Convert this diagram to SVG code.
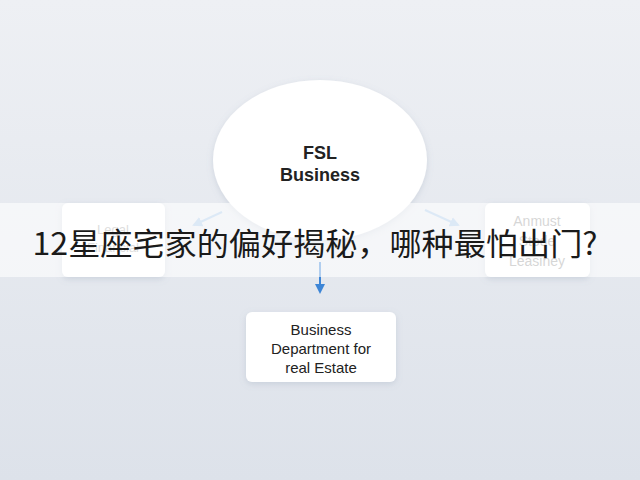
<svg xmlns="http://www.w3.org/2000/svg" width="640" height="480" viewBox="0 0 640 480">
<defs>
<linearGradient id="bg" x1="0" y1="0" x2="0" y2="1"><stop offset="0" stop-color="#eef0f4"/><stop offset="1" stop-color="#dde2ea"/></linearGradient>
<marker id="ah" viewBox="0 0 10 10" refX="8" refY="5" markerWidth="5" markerHeight="5" orient="auto"><path d="M0,0L10,5L0,10z" fill="context-stroke"/></marker>
<filter id="sh" x="-20%" y="-20%" width="140%" height="140%"><feDropShadow dx="0" dy="2" stdDeviation="3" flood-color="#8090a8" flood-opacity="0.25"/></filter>
</defs>
<style>
.box{fill:#fff;filter:url(#sh)}
.t{font-family:"Liberation Sans",Arial,sans-serif;fill:#222;text-anchor:middle}
.c{stroke-width:2;fill:none;marker-end:url(#ah)}
</style>
<rect width="640" height="480" fill="url(#bg)"/>
<g id="connectors">
<path class="c" d="M222,212 L194,225" stroke="#a9c8e8"/>
<path class="c" d="M425,210 L458,225" stroke="#a9c8e8"/>
<path class="c" d="M320,262 L320,292" stroke="#3d85d6"/>
</g>
<g id="fsl"><ellipse class="box" cx="320" cy="160" rx="107" ry="80"/>
<text class="t" x="320" y="159" font-size="18" font-weight="bold">FSL</text>
<text class="t" x="320" y="181" font-size="18" font-weight="bold">Business</text></g>
<g id="left"><rect class="box" x="62" y="203" width="103" height="74" rx="6"/>
<text class="t" x="113" y="234" font-size="13" style="fill:#aaa">Legal</text>
<text class="t" x="113" y="252" font-size="13" style="fill:#aaa">Financial</text></g>
<g id="right"><rect class="box" x="485" y="203" width="105" height="74" rx="6"/>
<text class="t" x="537" y="226" font-size="14" style="fill:#999">Anmust</text>
<text class="t" x="537" y="246" font-size="14" style="fill:#999">Stode</text>
<text class="t" x="537" y="266" font-size="14" style="fill:#999">Leasiney</text></g>
<g id="dept"><rect class="box" x="246" y="312" width="150" height="70" rx="6"/>
<text class="t" x="321" y="335" font-size="15">Business</text>
<text class="t" x="321" y="354" font-size="15">Department for</text>
<text class="t" x="321" y="373" font-size="15">real Estate</text></g>
<g id="banner"><rect x="0" y="203" width="640" height="74" fill="#fff" opacity="0.6"/>
<text x="315" y="255" font-size="31" text-anchor="middle" fill="#1a1a1a" textLength="565" lengthAdjust="spacingAndGlyphs" font-family="'Noto Sans CJK SC',sans-serif">12星座宅家的偏好揭秘，哪种最怕出门?</text></g>
</svg>
